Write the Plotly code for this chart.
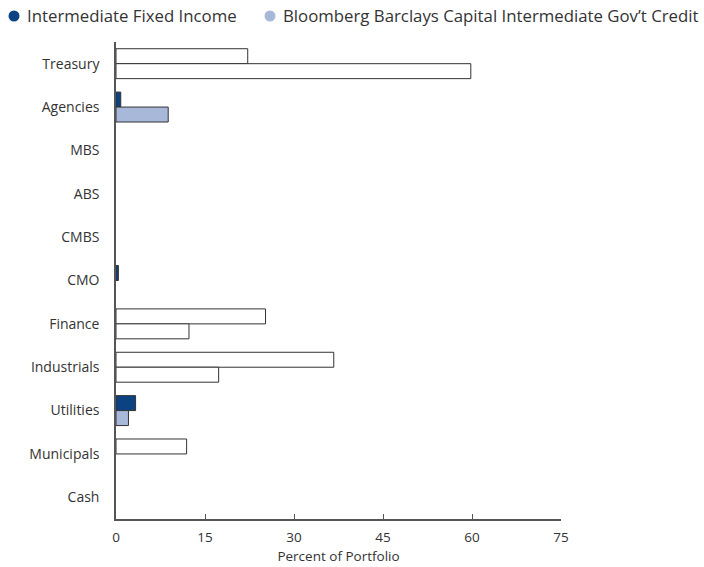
import plotly.graph_objects as go

categories = ["Treasury", "Agencies", "MBS", "ABS", "CMBS", "CMO",
              "Finance", "Industrials", "Utilities", "Municipals", "Cash"]
fund_name = "Intermediate Fixed Income"
index_name = "Bloomberg Barclays Capital Intermediate Gov\u2019t Credit"
fund_values = [22.2, 0.8, 0, 0, 0, 0.4, 25.2, 36.7, 3.3, 11.9, 0]
index_values = [59.8, 8.8, 0, 0, 0, 0, 12.3, 17.3, 2.1, 0, 0]
x_ticks = [0, 15, 30, 45, 60, 75]

# styling
FUND_COLOR = "#0b4382"
INDEX_COLOR = "#a8b8d9"
HOLLOW = {"Treasury", "Finance", "Industrials", "Municipals"}
FONT = "Open Sans"
TEXT = "#333333"
W, H = 704, 567
L, R, T, B = 116, 704 - 561, 42, 567 - 519
PW, PH = W - L - R, H - T - B


def colors(base):
    return ["#ffffff" if c in HOLLOW else base for c in categories]


def widths(vals):
    return [0 if v == 0 else 1 for v in vals]


fig = go.Figure()
fig.add_trace(go.Bar(
    y=categories, x=fund_values, orientation="h", name=fund_name,
    marker=dict(color=colors(FUND_COLOR),
                line=dict(color="#333333", width=widths(fund_values))),
    showlegend=False))
fig.add_trace(go.Bar(
    y=categories, x=index_values, orientation="h", name=index_name,
    marker=dict(color=colors(INDEX_COLOR),
                line=dict(color="#333333", width=widths(index_values))),
    showlegend=False))


def px_x(p):  # page pixel -> paper
    return (p - L) / PW


def px_y(p):
    return (H - B - p) / PH


# legend drawn as circle shapes + text annotations (single row, like the original)
for cx, col, nm in [(14, FUND_COLOR, fund_name), (270, INDEX_COLOR, index_name)]:
    fig.add_shape(type="circle", xref="paper", yref="paper",
                  xsizemode="pixel", ysizemode="pixel",
                  xanchor=px_x(cx), yanchor=px_y(16),
                  x0=-5.5, x1=5.5, y0=-5.5, y1=5.5,
                  fillcolor=col, line=dict(width=0))
    fig.add_annotation(xref="paper", yref="paper", x=px_x(cx + 11), y=px_y(16),
                       xanchor="left", yanchor="middle", text=nm, showarrow=False,
                       font=dict(size=16.8, color=TEXT, family=FONT))

fig.update_layout(
    width=W, height=H,
    margin=dict(l=L, r=R, t=T, b=B),
    paper_bgcolor="white", plot_bgcolor="white",
    barmode="group", bargap=0.31, bargroupgap=0,
    showlegend=False,
    font=dict(family=FONT, color=TEXT, size=13),
    xaxis=dict(range=[0, 75], tickvals=x_ticks, showgrid=False, zeroline=False,
               showline=True, linecolor="#555555", linewidth=1.5,
               ticks="inside", ticklen=5, tickcolor="#555555",
               ticklabelstandoff=5, tickfont=dict(size=13.5),
               title=dict(text="Percent of Portfolio", font=dict(size=13.5), standoff=7),
               automargin=False, fixedrange=True),
    yaxis=dict(type="category", categoryorder="array", categoryarray=categories,
               autorange="reversed", showgrid=False, zeroline=False,
               showline=True, linecolor="#555555", linewidth=1.5,
               ticks="", ticklabelstandoff=12, tickfont=dict(size=14),
               automargin=False, fixedrange=True),
)

fig.write_html("out.html", config={"displayModeBar": False},
               post_script="document.body.style.margin='0';")
